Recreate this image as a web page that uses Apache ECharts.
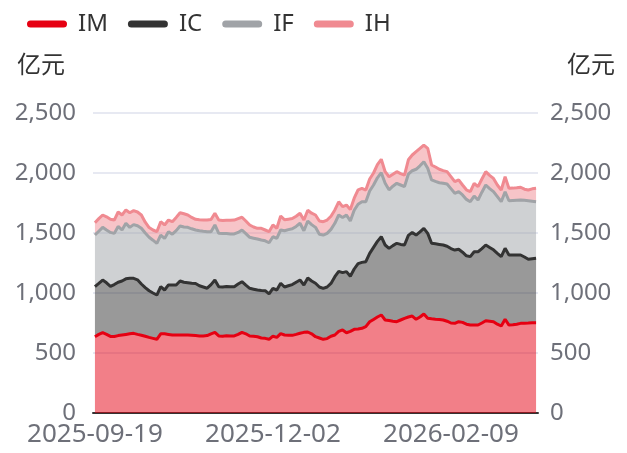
<!DOCTYPE html>
<html>
<head>
<meta charset="utf-8">
<script src="https://cdn.jsdelivr.net/npm/echarts@6/dist/echarts.min.js"></script>
<style>
  html, body { margin: 0; padding: 0; background: #fff; }
  #chart { width: 627px; height: 453px; }
</style>
</head>
<body>
<div id="chart"></div>
<script>
// trading days shown on the x axis
const dates = [
  '2025-09-19', '2025-09-22', '2025-09-23', '2025-09-24', '2025-09-25', '2025-09-26', '2025-09-29', '2025-09-30', '2025-10-09', '2025-10-10',
  '2025-10-13', '2025-10-14', '2025-10-15', '2025-10-16', '2025-10-17', '2025-10-20', '2025-10-21', '2025-10-22', '2025-10-23', '2025-10-24',
  '2025-10-27', '2025-10-28', '2025-10-29', '2025-10-30', '2025-10-31', '2025-11-03', '2025-11-04', '2025-11-05', '2025-11-06', '2025-11-07',
  '2025-11-10', '2025-11-11', '2025-11-12', '2025-11-13', '2025-11-14', '2025-11-17', '2025-11-18', '2025-11-19', '2025-11-20', '2025-11-21',
  '2025-11-24', '2025-11-25', '2025-11-26', '2025-11-27', '2025-11-28', '2025-12-01', '2025-12-02', '2025-12-03', '2025-12-04', '2025-12-05',
  '2025-12-08', '2025-12-09', '2025-12-10', '2025-12-11', '2025-12-12', '2025-12-15', '2025-12-16', '2025-12-17', '2025-12-18', '2025-12-19',
  '2025-12-22', '2025-12-23', '2025-12-24', '2025-12-25', '2025-12-26', '2025-12-29', '2025-12-30', '2026-01-05', '2026-01-06', '2026-01-07',
  '2026-01-08', '2026-01-09', '2026-01-12', '2026-01-13', '2026-01-14', '2026-01-15', '2026-01-16', '2026-01-19', '2026-01-20', '2026-01-21',
  '2026-01-22', '2026-01-23', '2026-01-26', '2026-01-27', '2026-01-28', '2026-01-29', '2026-01-30', '2026-02-02', '2026-02-03', '2026-02-04',
  '2026-02-05', '2026-02-06', '2026-02-09', '2026-02-10', '2026-02-11', '2026-02-12', '2026-02-13', '2026-02-24', '2026-02-25', '2026-02-26',
  '2026-02-27', '2026-03-02', '2026-03-03', '2026-03-04', '2026-03-05', '2026-03-06', '2026-03-09', '2026-03-10', '2026-03-11', '2026-03-12',
  '2026-03-13', '2026-03-16', '2026-03-17', '2026-03-18', '2026-03-19'
]

// values in 亿元, stacked IM -> IC -> IF -> IH
const imValues = [
  636, 655, 669, 655, 638, 637, 645, 650, 655, 660, 664, 655, 648, 640, 630, 622, 614, 660, 660, 655,
  650, 650, 650, 650, 650, 648, 645, 642, 642, 645, 660, 672, 642, 640, 643, 641, 642, 655, 672, 660,
  642, 640, 635, 625, 622, 614, 640, 630, 661, 650, 648, 647, 655, 665, 672, 675, 660, 636, 625, 614,
  620, 640, 650, 680, 692, 669, 680, 697, 700, 706, 720, 760, 780, 800, 817, 775, 770, 765, 761, 775,
  789, 800, 808, 781, 800, 825, 789, 785, 782, 780, 775, 765, 750, 747, 761, 755, 740, 733, 733, 733,
  750, 769, 765, 761, 740, 725, 781, 733, 735, 740, 747, 748, 750, 753, 753
]
const icValues = [
  417, 425, 439, 430, 417, 433, 445, 450, 463, 462, 458, 455, 427, 405, 389, 378, 369, 393, 365, 412,
  417, 417, 450, 440, 436, 434, 435, 418, 408, 395, 410, 436, 411, 410, 412, 411, 411, 420, 422, 405,
  397, 392, 390, 395, 397, 378, 399, 395, 420, 400, 412, 423, 435, 443, 395, 450, 440, 445, 425, 425,
  430, 440, 486, 500, 478, 509, 460, 503, 545, 549, 541, 570, 600, 630, 652, 625, 602, 630, 653, 630,
  611, 680, 697, 702, 710, 714, 708, 629, 628, 625, 625, 625, 620, 611, 603, 585, 570, 570, 611, 611,
  620, 631, 615, 599, 591, 578, 591, 584, 582, 577, 570, 552, 531, 532, 536
]
const ifValues = [
  430, 435, 439, 440, 450, 427, 465, 425, 463, 425, 448, 450, 464, 455, 446, 440, 431, 430, 430, 444,
  423, 453, 458, 460, 461, 453, 445, 458, 464, 471, 441, 459, 444, 445, 440, 440, 439, 430, 431, 430,
  425, 425, 425, 422, 416, 427, 430, 430, 444, 469, 468, 465, 465, 473, 452, 475, 470, 466, 440, 444,
  447, 450, 445, 470, 460, 472, 460, 490, 495, 506, 500, 520, 520, 530, 534, 514, 488, 495, 500, 495,
  486, 510, 514, 548, 550, 555, 542, 528, 520, 514, 514, 518, 500, 473, 480, 477, 470, 458, 464, 431,
  470, 500, 490, 485, 472, 458, 472, 452, 454, 456, 458, 472, 488, 480, 472
]
const ihValues = [
  103, 105, 103, 110, 110, 111, 120, 125, 111, 122, 116, 115, 111, 90, 80, 85, 97, 111, 112, 97,
  104, 110, 111, 110, 103, 95, 89, 92, 94, 97, 101, 97, 111, 110, 112, 114, 116, 115, 106, 105,
  103, 93, 89, 97, 90, 92, 98, 84, 117, 91, 87, 85, 85, 83, 89, 90, 95, 103, 110, 111,
  111, 110, 111, 110, 90, 83, 95, 100, 120, 111, 97, 100, 100, 110, 111, 97, 109, 100, 97, 95,
  97, 120, 131, 147, 145, 139, 167, 125, 120, 112, 106, 103, 100, 97, 98, 83, 80, 83, 106, 111,
  110, 111, 110, 110, 97, 97, 125, 103, 103, 104, 106, 93, 89, 103, 111
]

const seriesNames = ['IM', 'IC', 'IF', 'IH']
const seriesColors = ['#e60012', '#333333', '#a0a3a7', '#f08a91']
const yTicks = [0, 500, 1000, 1500, 2000, 2500]

const FONT = "'Noto Sans', 'Noto Sans CJK SC', sans-serif"
const PILL = 'path://M3.5,0 L36.5,0 A3.5,3.5 0 0 1 36.5,7 L3.5,7 A3.5,3.5 0 0 1 3.5,0 Z'

// one stacked area series
const makeSeries = (name, data, color) => ({
  name,
  type: 'line',
  stack: 'total',
  data,
  symbol: 'none',
  showSymbol: false,
  lineStyle: { width: 3, color },
  itemStyle: { color },
  areaStyle: { color, opacity: 0.5 },
  emphasis: { disabled: true }
})

const yAxisBase = {
  type: 'value',
  min: yTicks[0],
  max: yTicks[yTicks.length - 1],
  interval: 500,
  name: '亿元',
  nameLocation: 'end',
  nameGap: 35,
  axisLine: { show: false },
  axisTick: { show: false },
  axisLabel: { fontSize: 24, color: '#6e7079', fontFamily: FONT }
}

const chart = echarts.init(document.getElementById('chart'), null, { renderer: 'canvas' })

chart.setOption({
  animation: false,
  legend: {
    data: seriesNames,
    left: 22,
    top: 7,
    icon: PILL,
    itemWidth: 40,
    itemHeight: 7,
    itemGap: 20,
    textStyle: { fontSize: 24, color: '#333', fontFamily: FONT, padding: [0, 0, 0, 6] }
  },
  grid: { left: 93, right: 89, top: 113, bottom: 40 },
  xAxis: {
    type: 'category',
    data: dates,
    boundaryGap: true,
    axisLine: { lineStyle: { color: '#333', width: 2 } },
    axisTick: { inside: true, length: 6, lineStyle: { color: '#333', width: 2 } },
    axisLabel: { interval: 45, fontSize: 26, color: '#6e7079', fontFamily: FONT, margin: 9 }
  },
  yAxis: [
    Object.assign({}, yAxisBase, {
      position: 'left',
      axisLabel: Object.assign({}, yAxisBase.axisLabel, { margin: 17 }),
      nameTextStyle: { fontSize: 24, color: '#333', fontFamily: FONT, align: 'right', padding: [0, 28, 0, 0] },
      splitLine: { lineStyle: { color: '#dfe2ee', width: 1.5 } }
    }),
    Object.assign({}, yAxisBase, {
      position: 'right',
      axisLabel: Object.assign({}, yAxisBase.axisLabel, { margin: 12 }),
      nameTextStyle: { fontSize: 24, color: '#333', fontFamily: FONT, align: 'left', padding: [0, 0, 0, 29] },
      splitLine: { show: false }
    })
  ],
  series: [
    makeSeries(seriesNames[0], imValues, seriesColors[0]),
    makeSeries(seriesNames[1], icValues, seriesColors[1]),
    makeSeries(seriesNames[2], ifValues, seriesColors[2]),
    makeSeries(seriesNames[3], ihValues, seriesColors[3])
  ]
})
</script>
</body>
</html>
